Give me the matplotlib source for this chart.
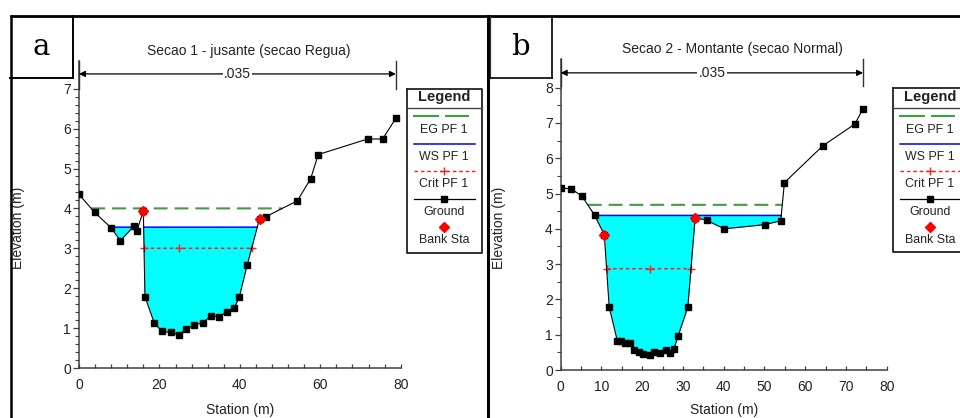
import numpy as np
import matplotlib
matplotlib.use("Agg")
import matplotlib.pyplot as plt
from matplotlib.ticker import MultipleLocator

plt.rcParams['font.family'] = ['Liberation Sans', 'DejaVu Sans']
plt.rcParams['lines.scale_dashes'] = False

# ---------------- data ----------------
titles = ["Secao 1 - jusante (secao Regua)", "Secao 2 - Montante (secao Normal)"]
panel_letters = ["a", "b"]
n_value = ".035"

sta_a = [0, 3.9, 8.0, 10.3, 13.8, 14.4, 16.0, 16.4, 18.7, 20.6, 22.8, 24.8, 26.7, 28.6,
         30.8, 32.8, 34.7, 36.7, 38.6, 39.9, 41.8, 44.9, 46.4, 54.3, 57.6, 59.5, 71.8, 75.5, 78.8]
elev_a = [4.35, 3.90, 3.51, 3.19, 3.57, 3.44, 3.94, 1.79, 1.13, 0.92, 0.89, 0.83, 0.98, 1.08,
          1.13, 1.31, 1.28, 1.40, 1.50, 1.79, 2.57, 3.74, 3.79, 4.19, 4.74, 5.35, 5.74, 5.74, 6.26]
bank_a = [16.0, 44.9]
eg_a, ws_a, crit_a = 4.00, 3.53, 3.00

sta_b = [0, 2.6, 5.2, 8.3, 10.7, 11.9, 13.9, 14.8, 15.9, 16.9, 18.1, 19.1, 20.1, 21.8, 22.9,
         24.3, 25.9, 26.8, 27.8, 28.8, 31.2, 33.0, 35.9, 40.1, 50.1, 54.0, 54.9, 64.3, 72.2, 74.2]
elev_b = [5.16, 5.13, 4.93, 4.39, 3.83, 1.79, 0.82, 0.81, 0.76, 0.76, 0.57, 0.50, 0.45, 0.42, 0.50,
          0.49, 0.57, 0.49, 0.60, 0.96, 1.79, 4.32, 4.24, 4.00, 4.12, 4.23, 5.31, 6.35, 6.97, 7.41]
bank_b = [10.7, 33.0]
eg_b, ws_b, crit_b = 4.68, 4.38, 2.87

legend_labels = ["EG PF 1", "WS PF 1", "Crit PF 1", "Ground", "Bank Sta"]

# ---------------- style ----------------
W, H = 960, 418
C_EG = '#3f9f3f'
C_WS = '#0000ff'
C_FILL = '#00ffff'
C_CRIT = '#ff2020'
C_TXT = '#222222'

fig = plt.figure(figsize=(W / 100, H / 100), dpi=100)

panels = [
    dict(sta=sta_a, elev=elev_a, bank=bank_a, eg=eg_a, ws=ws_a, crit=crit_a,
         pos=[79 / W, (H - 368) / H, 321.7 / W, 7.7 * 39.9 / H], ytop=7.7, yticks_max=7,
         ymaj=1, ymin=0.2, xmaj=20, xmin=4, brk=(7.37, 7.0, 7.7), ylab_x=18.5),
    dict(sta=sta_b, elev=elev_b, bank=bank_b, eg=eg_b, ws=ws_b, crit=crit_b,
         pos=[560.7 / W, (H - 370) / H, 326.0 / W, 8.8 * 35.29 / H], ytop=8.8, yticks_max=8,
         ymaj=1, ymin=0.5, xmaj=10, xmin=5, brk=(8.42, 8.04, 8.8), ylab_x=499.5),
]


def masked_level(xs, ys, level):
    xd = np.union1d(np.linspace(xs.min(), xs.max(), 6000), xs)
    gd = np.interp(xd, xs, ys)
    return xd, gd, gd < level


for p in panels:
    ax = fig.add_axes(p['pos'])
    xs = np.asarray(p['sta'], float)
    ys = np.asarray(p['elev'], float)

    # water fill and WS line
    xd, gd, wet = masked_level(xs, ys, p['ws'])
    ax.fill_between(xd, gd, p['ws'], where=wet, color=C_FILL, lw=0, interpolate=True, zorder=1)
    ax.plot(xd, np.where(wet, p['ws'], np.nan), color=C_WS, lw=1.1, zorder=3)

    # EG line
    xe, ge, m_e = masked_level(xs, ys, p['eg'])
    ax.plot(xe, np.where(m_e, p['eg'], np.nan), color=C_EG, lw=1.5,
            dashes=(10.0, 5.0), zorder=3)

    # Critical line with + markers at ends and at thalweg
    xc, gc, m_c = masked_level(xs, ys, p['crit'])
    ax.plot(xc, np.where(m_c, p['crit'], np.nan), color=C_CRIT, lw=1.1,
            dashes=(2.6, 2.0), zorder=3)
    wx = xc[m_c]
    ax.plot([wx.min(), xs[np.argmin(ys)], wx.max()], [p['crit']] * 3, ls='none',
            marker='+', ms=6, mew=1.0, color=C_CRIT, zorder=4)

    # Ground
    ax.plot(xs, ys, color='black', lw=0.8, marker='s', ms=5.0, mfc='black', mec='black', zorder=5)
    # Bank stations
    bx = np.asarray(p['bank'], float)
    ax.plot(bx, np.interp(bx, xs, ys), ls='none', marker='D', ms=5.4, color='#ff0000', zorder=6)

    # Manning n bracket
    yb, yl, yh = p['brk']
    x0, x1 = xs.min(), xs.max()
    for xx in (x0, x1):
        ax.plot([xx, xx], [yl, yh], color='#333333', lw=1.0, clip_on=False, zorder=6)
    ax.annotate('', xy=(x0, yb), xytext=(x1, yb),
                arrowprops=dict(arrowstyle='<|-|>', color='black', lw=0.9,
                                mutation_scale=9, shrinkA=0, shrinkB=0),
                annotation_clip=False, zorder=6)
    ax.text((x0 + x1) / 2, yb, n_value, ha='center', va='center', fontsize=10, color=C_TXT,
            bbox=dict(facecolor='white', edgecolor='none', pad=1.0), zorder=7, clip_on=False)

    ax.set_xlim(0, 80)
    ax.set_ylim(0, p['ytop'])
    ax.set_xticks(np.arange(0, 81, p['xmaj']))
    ax.set_yticks(np.arange(0, p['yticks_max'] + 0.01, p['ymaj']))
    ax.xaxis.set_minor_locator(MultipleLocator(p['xmin']))
    ax.set_yticks(np.arange(0, p['yticks_max'] + 0.001, p['ymin']), minor=True)
    for s in ('top', 'right'):
        ax.spines[s].set_visible(False)
    for s in ('left', 'bottom'):
        ax.spines[s].set_color('#404040')
        ax.spines[s].set_linewidth(1.1)
    ax.tick_params(axis='y', which='major', direction='out', length=4.2, width=0.9,
                   pad=1.5, labelsize=10, colors='#404040', labelcolor=C_TXT)
    ax.tick_params(axis='y', which='minor', direction='out', length=2.8, width=0.8, colors='#404040')
    ax.tick_params(axis='x', which='both', direction='in', length=3.0, width=0.9,
                   pad=7.5, labelsize=10, colors='#404040', labelcolor=C_TXT)
    ax.tick_params(axis='x', which='minor', labelbottom=False)
    ax.patch.set_alpha(0)

    ax.set_xlabel('Station (m)', fontsize=10, color=C_TXT, va='center')
    ax.set_ylabel('Elevation (m)', fontsize=10, color=C_TXT, va='center')
    px0 = p['pos'][0] * W
    pw = p['pos'][2] * W
    pb = (1 - p['pos'][1]) * H
    ph = p['pos'][3] * H
    ax.xaxis.set_label_coords(0.5, (pb - 410) / ph)
    ax.yaxis.set_label_coords((p['ylab_x'] - px0) / pw, (pb - 228) / ph)

# ---------------- overlay (frames, titles, legends) ----------------
ov = fig.add_axes([0, 0, 1, 1], zorder=10)
ov.set_xlim(0, W)
ov.set_ylim(H, 0)
ov.axis('off')
ov.patch.set_alpha(0)

K = 'black'
# outer frames
ov.plot([10, W], [16, 16], color=K, lw=2.0, solid_capstyle='butt')
ov.plot([10.5, 10.5], [16, H], color=K, lw=1.8)
ov.plot([487.5, 487.5], [16, H], color=K, lw=2.2)
# letter boxes
ov.plot([72.5, 72.5], [16, 77.5], color=K, lw=1.4)
ov.plot([10, 72.5], [77.5, 77.5], color=K, lw=1.4)
ov.plot([490.3, 490.3], [16, 77.5], color='#333333', lw=0.9)
ov.plot([489, 551.5], [77.5, 77.5], color=K, lw=1.2)
ov.plot([551.5, 551.5], [16, 77.5], color=K, lw=1.2)
for letter, cx in zip(panel_letters, (41, 520)):
    ov.text(cx, 47, letter, ha='center', va='center', fontsize=21,
            family=['DejaVu Serif'], color='black')

# titles
for t, cx, cy in zip(titles, (248.5, 732.7), (51, 49)):
    ov.text(cx, cy, t, ha='center', va='center', fontsize=10, color=C_TXT)


def draw_legend(left, top, width, bottom):
    cx = left + 37
    r = left + width
    ov.plot([left, r, r, left, left], [top, top, bottom, bottom, top], color='#222222', lw=1.3)
    ov.plot([left, r], [108, 108], color='#444444', lw=1.0)
    ov.text(cx, 97.5, 'Legend', ha='center', va='center', fontsize=10.5, weight='bold', color=C_TXT)
    # EG
    ov.plot([left + 7, left + 31], [116, 116], color=C_EG, lw=1.5)
    ov.plot([left + 39, left + 61], [116, 116], color=C_EG, lw=1.5)
    # WS
    ov.plot([left + 7, left + 68], [144, 144], color=C_WS, lw=1.1)
    # Crit
    ov.plot([left + 7, left + 68], [171, 171], color=C_CRIT, lw=1.0, dashes=(2.6, 2.0))
    ov.plot([cx], [171], marker='+', ms=6, mew=1.0, color=C_CRIT)
    # Ground
    ov.plot([left + 7, left + 68], [199, 199], color='black', lw=0.9)
    ov.plot([cx], [199], marker='s', ms=5.0, color='black')
    # Bank
    ov.plot([cx], [227], marker='D', ms=5.4, color='#ff0000')
    for lab, yy in zip(legend_labels, (130, 157, 184, 212, 240)):
        ov.text(cx, yy, lab, ha='center', va='center', fontsize=8.9, color=C_TXT)


draw_legend(407, 89, 75, 253)
draw_legend(893, 88, 75, 252)

fig.savefig('out.png', dpi=100)
